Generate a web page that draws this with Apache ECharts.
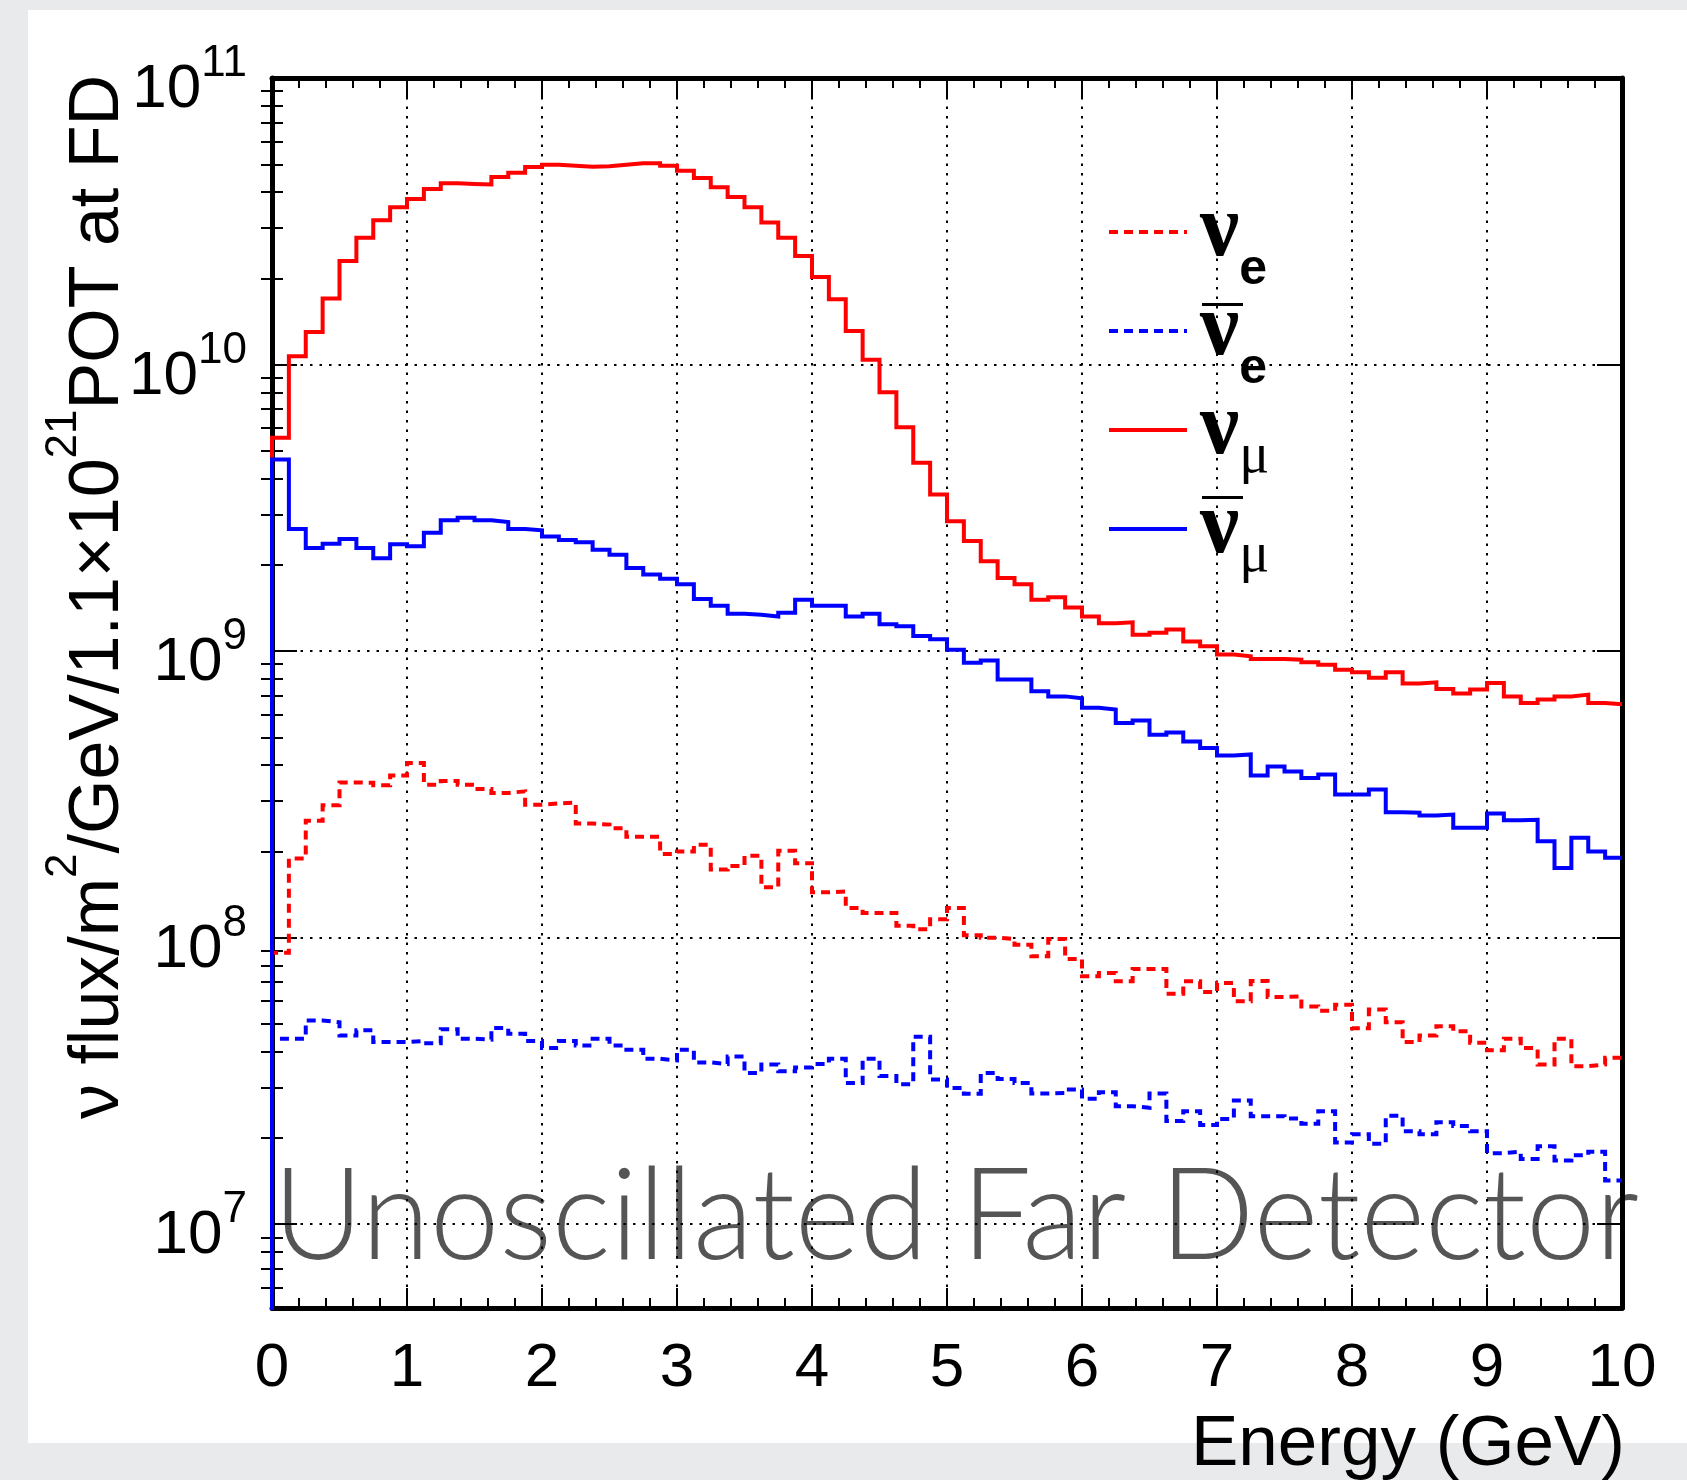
<!DOCTYPE html>
<html><head><meta charset="utf-8">
<script src="https://cdn.jsdelivr.net/npm/echarts@6/dist/echarts.min.js"></script>
<style>html,body{margin:0;padding:0;background:#e8eaec;overflow:hidden}#c{width:1687px;height:1480px}</style>
</head><body><div id="c"></div>
<script>
// Bin edges (GeV), 80 bins of 0.125 GeV
const energyBinEdges = [0,0.125,0.25,0.375,0.5,0.625,0.75,0.875,1,1.125,1.25,1.375,1.5,1.625,1.75,1.875,2,2.125,2.25,2.375,2.5,2.625,2.75,2.875,3,3.125,3.25,3.375,3.5,3.625,3.75,3.875,4,4.125,4.25,4.375,4.5,4.625,4.75,4.875,5,5.125,5.25,5.375,5.5,5.625,5.75,5.875,6,6.125,6.25,6.375,6.5,6.625,6.75,6.875,7,7.125,7.25,7.375,7.5,7.625,7.75,7.875,8,8.125,8.25,8.375,8.5,8.625,8.75,8.875,9,9.125,9.25,9.375,9.5,9.625,9.75,9.875,10];

// nu_e flux (dashed red)
const nueFlux = [8.85e7,1.89e8,2.56e8,2.90e8,3.48e8,3.47e8,3.40e8,3.68e8,4.07e8,3.42e8,3.52e8,3.42e8,3.30e8,3.20e8,3.24e8,2.91e8,2.94e8,2.96e8,2.50e8,2.48e8,2.41e8,2.25e8,2.25e8,1.96e8,2.00e8,2.11e8,1.73e8,1.78e8,1.93e8,1.50e8,2.01e8,1.82e8,1.44e8,1.45e8,1.27e8,1.22e8,1.22e8,1.10e8,1.07e8,1.16e8,1.27e8,1.02e8,1.00e8,9.89e7,9.44e7,8.61e7,9.89e7,8.43e7,7.33e7,7.53e7,7.05e7,7.78e7,7.78e7,6.37e7,7.05e7,6.46e7,6.95e7,6.00e7,7.06e7,6.21e7,6.24e7,5.75e7,5.56e7,5.83e7,4.83e7,5.61e7,5.07e7,4.32e7,4.56e7,4.91e7,4.71e7,4.30e7,4.05e7,4.44e7,4.12e7,3.61e7,4.44e7,3.56e7,3.61e7,3.81e7];
// anti-nu_e flux (dashed blue)
const nuebarFlux = [4.44e7,4.44e7,5.14e7,5.07e7,4.56e7,4.75e7,4.32e7,4.32e7,4.36e7,4.28e7,4.79e7,4.44e7,4.41e7,4.84e7,4.62e7,4.36e7,4.12e7,4.36e7,4.20e7,4.44e7,4.20e7,4.06e7,3.78e7,3.73e7,4.06e7,3.67e7,3.62e7,3.85e7,3.37e7,3.61e7,3.42e7,3.52e7,3.62e7,3.78e7,3.11e7,3.78e7,3.29e7,3.08e7,4.51e7,3.20e7,2.99e7,2.85e7,3.37e7,3.21e7,3.11e7,2.86e7,2.87e7,2.95e7,2.74e7,2.89e7,2.58e7,2.55e7,2.86e7,2.29e7,2.48e7,2.22e7,2.33e7,2.70e7,2.38e7,2.38e7,2.34e7,2.24e7,2.48e7,1.93e7,2.06e7,1.91e7,2.39e7,2.11e7,2.06e7,2.27e7,2.20e7,2.11e7,1.77e7,1.79e7,1.69e7,1.87e7,1.67e7,1.74e7,1.79e7,1.42e7];
// nu_mu flux (solid red)
const numuFlux = [5.55e9,1.07e10,1.30e10,1.70e10,2.30e10,2.77e10,3.19e10,3.54e10,3.78e10,4.10e10,4.29e10,4.27e10,4.25e10,4.51e10,4.67e10,4.89e10,4.98e10,4.94e10,4.90e10,4.92e10,4.98e10,5.04e10,5.04e10,4.94e10,4.75e10,4.48e10,4.16e10,3.84e10,3.54e10,3.13e10,2.77e10,2.39e10,2.02e10,1.69e10,1.31e10,1.04e10,8.00e9,6.04e9,4.54e9,3.52e9,2.84e9,2.42e9,2.06e9,1.80e9,1.71e9,1.51e9,1.54e9,1.42e9,1.32e9,1.25e9,1.26e9,1.14e9,1.16e9,1.19e9,1.08e9,1.04e9,9.73e8,9.59e8,9.38e8,9.38e8,9.33e8,9.14e8,8.97e8,8.61e8,8.43e8,8.07e8,8.43e8,7.71e8,7.78e8,7.38e8,7.11e8,7.35e8,7.74e8,6.95e8,6.59e8,6.78e8,6.95e8,7.05e8,6.59e8,6.53e8];
// anti-nu_mu flux (solid blue)
const numubarFlux = [4.66e9,2.67e9,2.29e9,2.37e9,2.46e9,2.29e9,2.11e9,2.36e9,2.32e9,2.59e9,2.86e9,2.92e9,2.86e9,2.82e9,2.67e9,2.64e9,2.51e9,2.44e9,2.40e9,2.26e9,2.17e9,1.95e9,1.85e9,1.79e9,1.71e9,1.52e9,1.44e9,1.35e9,1.34e9,1.32e9,1.36e9,1.51e9,1.44e9,1.44e9,1.32e9,1.35e9,1.24e9,1.22e9,1.13e9,1.10e9,1.01e9,9.10e8,9.27e8,7.96e8,7.96e8,7.24e8,6.95e8,6.85e8,6.34e8,6.25e8,5.61e8,5.73e8,5.11e8,5.20e8,4.84e8,4.59e8,4.32e8,4.36e8,3.68e8,3.96e8,3.80e8,3.61e8,3.71e8,3.16e8,3.16e8,3.29e8,2.74e8,2.73e8,2.67e8,2.69e8,2.42e8,2.42e8,2.71e8,2.57e8,2.58e8,2.17e8,1.75e8,2.23e8,2.00e8,1.90e8];

const seriesNames = ['νe', 'ν̄e', 'νμ', 'ν̄μ'];
const xTickLabels = ['0','1','2','3','4','5','6','7','8','9','10'];
const yMajorTicks = [1e7, 1e8, 1e9, 1e10, 1e11];
const yMinorTicks = [6e6,7e6,8e6,9e6,2e7,3e7,4e7,5e7,6e7,7e7,8e7,9e7,2e8,3e8,4e8,5e8,6e8,7e8,8e8,9e8,2e9,3e9,4e9,5e9,6e9,7e9,8e9,9e9,2e10,3e10,4e10,5e10,6e10,7e10,8e10,9e10];
const Y_MIN = 5.1e6, Y_MAX = 1e11;
const HIST_BASELINE = 1e6; // histogram outline starts from below the axis

function histPoints(vals) {
  const pts = [[energyBinEdges[0], HIST_BASELINE]];
  for (let i = 0; i < vals.length; i++) pts.push([energyBinEdges[i + 1], vals[i]]);
  return pts;
}

const SANS = 'Liberation Sans, Arial, Helvetica, sans-serif';
const SERIF = 'Liberation Serif, Times New Roman, serif';
const dotted = { color: '#000', width: 2, type: [2.5, 7] };

const chart = echarts.init(document.getElementById('c'), null, { renderer: 'canvas' });

function mkSeries(name, vals, color, dashed, z) {
  return {
    name, type: 'line', step: 'start', data: histPoints(vals),
    symbol: 'none', showSymbol: false, clip: true, z,
    xAxisIndex: 0, yAxisIndex: 0,
    lineStyle: { color, width: 4, type: dashed ? [9, 6] : 'solid', join: 'miter', cap: 'butt' },
    itemStyle: { color },
    emphasis: { disabled: true }
  };
}

const legendRich = {
  nu: { fontFamily: SERIF, fontWeight: 'bold', fontSize: 88, lineHeight: 88, verticalAlign: 'top', padding: [0, 0, 0, 8], color: '#000' },
  e: { fontFamily: SANS, fontWeight: 'bold', fontSize: 50, lineHeight: 50, verticalAlign: 'top', padding: [57, 0, 0, 0], color: '#000' },
  mu: { fontFamily: SERIF, fontSize: 56, lineHeight: 56, verticalAlign: 'top', padding: [43, 0, 8, 0], color: '#000' }
};

const option = {
  animation: false,
  backgroundColor: 'transparent',
  grid: { left: 272, right: 65, top: 78, bottom: 172, containLabel: false, outerBoundsMode: 'none' },
  legend: {
    orient: 'vertical', left: 1102, top: 183,
    itemWidth: 78, itemHeight: 14, itemGap: -8,
    data: seriesNames,
    selectedMode: false,
    itemStyle: { opacity: 0, borderWidth: 0 },
    lineStyle: { width: 4, type: 'inherit', color: 'inherit' },
    formatter: function (n) {
      const sub = n.indexOf('μ') >= 0 ? '{mu|μ}' : '{e|e}';
      return '{nu|ν}' + sub;
    },
    textStyle: { rich: legendRich }
  },
  xAxis: [
    {
      type: 'value', position: 'bottom', min: 0, max: 10, interval: 1,
      axisLine: { show: true, onZero: false, lineStyle: { color: '#000', width: 5 } },
      axisTick: { show: true, inside: true, length: 20, lineStyle: { color: '#000', width: 2 } },
      minorTick: { show: true, splitNumber: 5, length: 10, lineStyle: { color: '#000', width: 2 } },
      splitLine: { show: true, lineStyle: dotted },
      axisLabel: { show: true, margin: 30, fontFamily: SANS, fontSize: 62, color: '#000',
        formatter: (v) => xTickLabels[Math.round(v)] }
    },
    {
      type: 'value', position: 'top', min: 0, max: 10, interval: 1,
      axisLine: { show: true, onZero: false, lineStyle: { color: '#000', width: 5 } },
      axisTick: { show: true, inside: true, length: 20, lineStyle: { color: '#000', width: 2 } },
      minorTick: { show: true, splitNumber: 5, length: 10, lineStyle: { color: '#000', width: 2 } },
      splitLine: { show: false }, axisLabel: { show: false }
    }
  ],
  yAxis: [
    {
      type: 'log', position: 'left', min: Y_MIN, max: Y_MAX, logBase: 10,
      axisLine: { show: true, onZero: false, lineStyle: { color: '#000', width: 5 } },
      axisTick: { show: true, inside: true, length: 25, customValues: yMajorTicks, lineStyle: { color: '#000', width: 2 } },
      splitLine: { show: true, lineStyle: dotted },
      axisLabel: {
        show: true, margin: 25, customValues: yMajorTicks,
        formatter: function (v) {
          const e = Math.round(Math.log10(v));
          return '{b|10}{s|' + e + '}';
        },
        rich: {
          b: { fontFamily: SANS, fontSize: 62, lineHeight: 62, padding: [24, 0, 0, 0], verticalAlign: 'middle', color: '#000' },
          s: { fontFamily: SANS, fontSize: 44, lineHeight: 44, padding: [24, 0, 52, 0], verticalAlign: 'middle', color: '#000' }
        }
      }
    },
    {
      type: 'log', position: 'left', min: Y_MIN, max: Y_MAX, logBase: 10,
      axisLine: { show: false },
      axisTick: { show: true, inside: true, length: 11, customValues: yMinorTicks, lineStyle: { color: '#000', width: 2 } },
      splitLine: { show: false }, axisLabel: { show: false }
    },
    {
      type: 'log', position: 'right', min: Y_MIN, max: Y_MAX, logBase: 10,
      axisLine: { show: true, onZero: false, lineStyle: { color: '#000', width: 5 } },
      axisTick: { show: true, inside: true, length: 25, customValues: yMajorTicks, lineStyle: { color: '#000', width: 2 } },
      splitLine: { show: false }, axisLabel: { show: false }
    },
    {
      type: 'log', position: 'right', min: Y_MIN, max: Y_MAX, logBase: 10,
      axisLine: { show: false },
      axisTick: { show: true, inside: true, length: 11, customValues: yMinorTicks, lineStyle: { color: '#000', width: 2 } },
      splitLine: { show: false }, axisLabel: { show: false }
    }
  ],
  graphic: [
    { type: 'rect', z: -100, shape: { x: 28, y: 10, width: 1659, height: 1433 }, style: { fill: '#ffffff' } },
    { type: 'text', z: -50, x: 273, y: 1218, scaleX: 0.97,
      style: { text: 'Unoscillated Far Detector', fontFamily: 'Lato, Open Sans, sans-serif', fontWeight: 300, fontSize: 128,
        fill: '#555555', align: 'left', verticalAlign: 'middle' } },
    { type: 'text', z: 10, x: 1625, y: 1445,
      style: { text: 'Energy (GeV)', fontFamily: SANS, fontSize: 71, fill: '#000', align: 'right', verticalAlign: 'middle' } },
    { type: 'text', z: 10, x: 77, y: 597, rotation: Math.PI / 2,
      style: {
        text: '{t|ν flux/m}{p|2}{t|/GeV/1.1×10}{p|21}{t|POT at FD}',
        align: 'center', verticalAlign: 'middle',
        rich: {
          t: { fontFamily: SANS, fontSize: 70, lineHeight: 70, padding: [22, 0, 0, 0], verticalAlign: 'top', fill: '#000' },
          p: { fontFamily: SANS, fontSize: 44, lineHeight: 44, verticalAlign: 'top', fill: '#000' }
        }
      } },
    { type: 'rect', z: 10, shape: { x: 1202, y: 303, width: 41, height: 3 }, style: { fill: '#000' } },
    { type: 'rect', z: 10, shape: { x: 1202, y: 496, width: 41, height: 3 }, style: { fill: '#000' } }
  ],
  series: [
    mkSeries(seriesNames[0], nueFlux, '#ff0000', true, 3),
    mkSeries(seriesNames[1], nuebarFlux, '#0000ff', true, 4),
    mkSeries(seriesNames[2], numuFlux, '#ff0000', false, 5),
    mkSeries(seriesNames[3], numubarFlux, '#0000ff', false, 6)
  ]
};
chart.setOption(option);
</script>
</body></html>
